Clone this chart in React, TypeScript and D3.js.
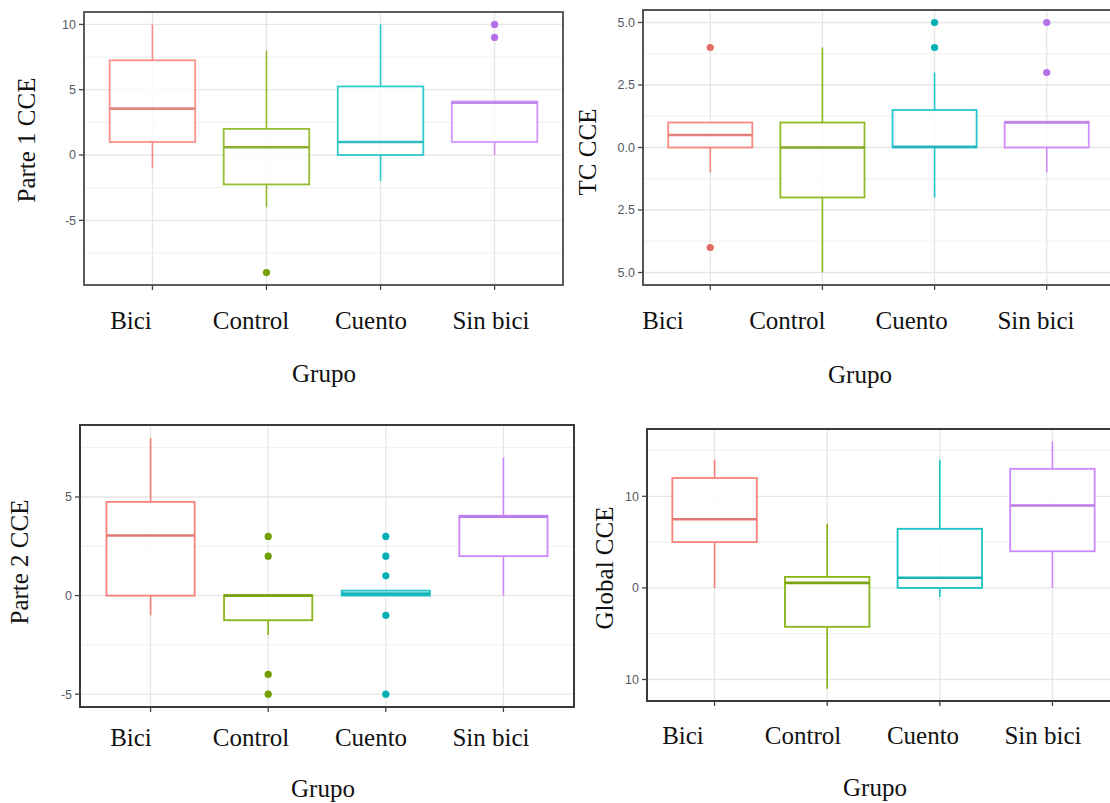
import { useEffect, useRef } from "react";
import * as d3 from "d3";

// grupos del eje x
const grupos = ["Bici", "Control", "Cuento", "Sin bici"];
const colores = ["#F8766D", "#7CAE00", "#00BFC4", "#C77CFF"];

// resumen de cinco numeros: [bigote inf, Q1, mediana, Q3, bigote sup]
const parte1Stats = [
    [-1, 1, 3.55, 7.25, 10],
    [-4, -2.25, 0.6, 2, 8],
    [-2, 0, 1, 5.25, 10],
    [0, 1, 4, 4.1, 4.1],
];
const parte1Outliers = [[], [-9], [], [10, 9]];
const parte1Ticks = [-5, 0, 5, 10];
const parte1TickLabels = ["-5", "0", "5", "10"];

const tcStats = [
    [-1, 0, 0.5, 1, 1],
    [-5, -2, 0, 1, 4],
    [-2, 0, 0.03, 1.5, 3],
    [-1, 0, 1, 1.03, 1.03],
];
const tcOutliers = [[4, -4], [], [5, 4], [5, 3]];
const tcTicks = [-5, -2.5, 0, 2.5, 5];
const tcTickLabels = ["5.0", "2.5", "0.0", "2.5", "5.0"];

const parte2Stats = [
    [-1, 0, 3.05, 4.75, 8],
    [-2, -1.25, 0, 0.03, 0.03],
    [0, 0, 0.1, 0.25, 0.25],
    [0, 2, 4, 4.05, 7],
];
const parte2Outliers = [[], [3, 2, -4, -5], [3, 2, 1, -1, -5], []];
const parte2Ticks = [-5, 0, 5];
const parte2TickLabels = ["-5", "0", "5"];

const globalStats = [
    [0, 5, 7.5, 12, 14],
    [-11, -4.25, 0.55, 1.2, 7],
    [-1, 0, 1.1, 6.45, 14],
    [0, 4, 9, 13, 16],
];
const globalOutliers = [[], [], [], []];
const globalTicks = [-10, 0, 10];
const globalTickLabels = ["10", "0", "10"];

const panels = [
    { stats: parte1Stats, outliers: parte1Outliers, ticks: parte1Ticks, tickLabels: parte1TickLabels, title: "Parte 1 CCE",
      l: 84, r: 563, t: 12, b: 285, titleX: 35, titleY: 140, labelRange: [131, 491], labelY: 329, grupoX: 324, grupoY: 382,
      alpha: 0.8, frame: "#5c5c5c" },
    { stats: tcStats, outliers: tcOutliers, ticks: tcTicks, tickLabels: tcTickLabels, title: "TC CCE",
      l: 643, r: 1114, t: 10, b: 285, titleX: 596, titleY: 152, labelRange: [663, 1036], labelY: 329, grupoX: 860, grupoY: 383,
      alpha: 0.85, frame: "#555" },
    { stats: parte2Stats, outliers: parte2Outliers, ticks: parte2Ticks, tickLabels: parte2TickLabels, title: "Parte 2 CCE",
      l: 80, r: 574, t: 425, b: 707, titleX: 28, titleY: 562, labelRange: [131, 491], labelY: 746, grupoX: 323, grupoY: 797,
      alpha: 0.9, frame: "#3a3a3a" },
    { stats: globalStats, outliers: globalOutliers, ticks: globalTicks, tickLabels: globalTickLabels, title: "Global CCE",
      l: 647, r: 1120, t: 429, b: 701, titleX: 613, titleY: 568, labelRange: [683, 1043], labelY: 744, grupoX: 875, grupoY: 796,
      alpha: 0.9, frame: "#3a3a3a" },
];

const App = () => {
    const ref = useRef(null);

    useEffect(() => {
        const svg = d3.select(ref.current);
        svg.selectAll("*").remove();
        svg.append("rect").attr("width", 1110).attr("height", 803).attr("fill", "white");

        panels.forEach(p => {
            const g = svg.append("g");

            // rango con 5% de expansion como ggplot
            const allVals = p.stats.flat().concat(p.outliers.flat());
            const [mn, mx] = d3.extent(allVals);
            const pad = (mx - mn) * 0.05;
            const y = d3.scaleLinear().domain([mn - pad, mx + pad]).range([p.b, p.t]);
            const x = d3.scalePoint().domain(grupos).range([p.l, p.r]).padding(0.6);
            const bw = x.step() * 0.75;

            const clip = "clip" + p.l + p.t;
            svg.append("clipPath").attr("id", clip)
                .append("rect").attr("x", p.l).attr("y", p.t).attr("width", p.r - p.l).attr("height", p.b - p.t);
            const inner = g.append("g").attr("clip-path", `url(#${clip})`);

            // grid
            const step = p.ticks[1] - p.ticks[0];
            const minor = p.ticks.map(t => t - step / 2).concat([p.ticks[p.ticks.length - 1] + step / 2])
                .filter(v => v > y.domain()[0] && v < y.domain()[1]);
            inner.selectAll(".minor").data(minor).enter().append("line")
                .attr("x1", p.l).attr("x2", p.r).attr("y1", d => y(d)).attr("y2", d => y(d))
                .attr("stroke", "#F0F0F0").attr("stroke-width", 1);
            inner.selectAll(".major").data(p.ticks).enter().append("line")
                .attr("x1", p.l).attr("x2", p.r).attr("y1", d => y(d)).attr("y2", d => y(d))
                .attr("stroke", "#E6E6E6").attr("stroke-width", 1.3);
            inner.selectAll(".vgrid").data(grupos).enter().append("line")
                .attr("x1", d => x(d)).attr("x2", d => x(d)).attr("y1", p.t).attr("y2", p.b)
                .attr("stroke", "#E6E6E6").attr("stroke-width", 1.3);

            // cajas
            p.stats.forEach((s, i) => {
                const cx = x(grupos[i]);
                const col = colores[i];
                const bx = inner.append("g").attr("opacity", p.alpha);
                bx.append("line").attr("x1", cx).attr("x2", cx).attr("y1", y(s[0])).attr("y2", y(s[1]))
                    .attr("stroke", col).attr("stroke-width", 1.6);
                bx.append("line").attr("x1", cx).attr("x2", cx).attr("y1", y(s[3])).attr("y2", y(s[4]))
                    .attr("stroke", col).attr("stroke-width", 1.6);
                bx.append("rect").attr("x", cx - bw / 2).attr("y", y(s[3])).attr("width", bw)
                    .attr("height", Math.max(y(s[1]) - y(s[3]), 0.5))
                    .attr("fill", "white").attr("stroke", col).attr("stroke-width", 1.8);
                bx.append("line").attr("x1", cx - bw / 2).attr("x2", cx + bw / 2).attr("y1", y(s[2])).attr("y2", y(s[2]))
                    .attr("stroke", d3.color(col).darker(0.3)).attr("stroke-width", 2.6);
                inner.selectAll(null).data(p.outliers[i]).enter().append("circle")
                    .attr("cx", cx).attr("cy", d => y(d)).attr("r", 3.6)
                    .attr("fill", d3.color(col).darker(0.25));
            });

            // marco
            g.append("rect").attr("x", p.l).attr("y", p.t).attr("width", p.r - p.l).attr("height", p.b - p.t)
                .attr("fill", "none").attr("stroke", p.frame).attr("stroke-width", 2);

            // ticks y
            g.selectAll(".yt").data(p.ticks).enter().append("line")
                .attr("x1", p.l - 5).attr("x2", p.l).attr("y1", d => y(d)).attr("y2", d => y(d))
                .attr("stroke", "#444").attr("stroke-width", 1.3);
            g.selectAll(".yl").data(p.ticks).enter().append("text")
                .attr("x", p.l - 8).attr("y", d => y(d)).attr("dy", "0.35em")
                .attr("text-anchor", "end")
                .style("font-family", "Liberation Sans, Arial, sans-serif")
                .style("font-size", "12.5px")
                .style("fill", "#555a66")
                .text((d, i) => p.tickLabels[i]);

            // ticks x
            g.selectAll(".xt").data(grupos).enter().append("line")
                .attr("x1", d => x(d)).attr("x2", d => x(d)).attr("y1", p.b).attr("y2", p.b + 5)
                .attr("stroke", "#444").attr("stroke-width", 1.3);

            // etiquetas de grupo
            const lx = d3.scalePoint().domain(grupos).range(p.labelRange);
            g.selectAll(".xl").data(grupos).enter().append("text")
                .attr("x", d => lx(d)).attr("y", p.labelY)
                .attr("text-anchor", "middle")
                .style("font-family", "Liberation Serif, Times New Roman, serif")
                .style("font-size", "25px")
                .style("fill", "#111")
                .text(d => d);

            g.append("text")
                .attr("x", p.grupoX).attr("y", p.grupoY)
                .attr("text-anchor", "middle")
                .style("font-family", "Liberation Serif, Times New Roman, serif")
                .style("font-size", "25px")
                .style("fill", "#111")
                .text("Grupo");

            g.append("text")
                .attr("transform", `translate(${p.titleX},${p.titleY}) rotate(-90)`)
                .attr("text-anchor", "middle")
                .style("font-family", "Liberation Serif, Times New Roman, serif")
                .style("font-size", "25px")
                .style("fill", "#111")
                .text(p.title);
        });

        return () => {
            d3.select(ref.current).selectAll("*").remove();
        };
    }, []);

    return (
        <svg ref={ref} width={1110} height={803}
            style={{ position: "absolute", left: 0, top: 0, display: "block" }}></svg>
    );
};

export default App;
